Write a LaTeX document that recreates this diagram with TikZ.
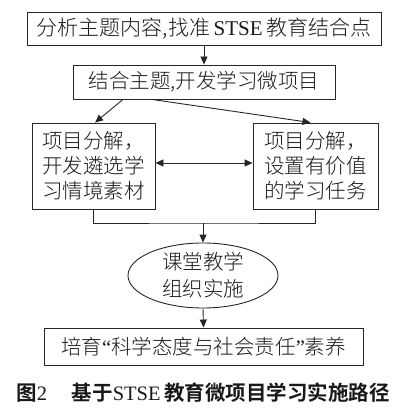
\documentclass[tikz,border=0pt]{standalone}
\usepackage{fontspec}
\setmainfont{Liberation Serif}
\IfFontExistsTF{Noto Sans CJK SC Light}
  {\newfontfamily\cjk[BoldFont={Noto Sans CJK SC Bold}]{Noto Sans CJK SC Light}}
  {\newfontfamily\cjk[BoldFont={Noto Sans CJK SC Bold}]{Noto Sans CJK SC}}
\usetikzlibrary{arrows.meta,shapes.geometric}
\begin{document}
\begin{tikzpicture}[x=1pt,y=-1pt,
  box/.style={draw=black!85, line width=0.9pt, inner sep=0pt, text=black!90, font=\cjk\fontsize{20.5}{25}\selectfont, align=center},
  ell/.style={ellipse, draw=black!85, line width=0.9pt, inner sep=0pt, text=black!90, font=\cjk\fontsize{20.5}{27}\selectfont, align=center},
  conn/.style={draw=black!85, line width=0.9pt},
  arr/.style={conn, -{Triangle[length=8pt,width=7pt]}},
  darr/.style={conn, {Triangle[length=8pt,width=7pt]}-{Triangle[length=8pt,width=7pt]}}
]
\useasboundingbox (0,0) rectangle (400,411);
\node[box, minimum width=354pt, minimum height=33pt, font=\cjk\fontsize{21}{25}\selectfont] (b1) at (204,28.5)
  {分析主题内容,找准\,{\rmfamily STSE}\,教育结合点};
\node[box, minimum width=262pt, minimum height=34pt] (b2) at (204,82)
  {结合主题,开发学习微项目};
\node[box, minimum width=123pt, minimum height=86pt] (l) at (93.5,166)
  {项目分解，\\开发遴选学\\习情境素材};
\node[box, minimum width=125pt, minimum height=86pt] (r) at (315.5,166)
  {项目分解，\\设置有价值\\的学习任务};
\node[ell, minimum width=150pt, minimum height=65pt] (e) at (203,275.5)
  {课堂教学\\组织实施};
\node[box, minimum width=319pt, minimum height=37pt] (b3) at (203.5,346.5)
  {培育{\rmfamily“}科学态度与社会责任{\rmfamily”}素养};
\node[text=black!90, font=\cjk\bfseries\fontsize{20.5}{25}\selectfont] (cap) at (203,393)
  {图{\rmfamily\mdseries 2}\hspace{1.2em}基于{\rmfamily\mdseries STSE}\,教育微项目学习实施路径};
\coordinate (j) at (203,223);
\draw[arr] (b1.south) -- (b2.north);
\draw[arr] ([xshift=-81pt]b2.south) -- ([xshift=1.5pt]l.north);
\draw[arr] ([xshift=-52pt]b2.south) -- ([xshift=-5pt]r.north);
\draw[darr] ([yshift=3pt]l.east) -- ([yshift=3pt]r.west);
\draw[conn] (l.south) |- (j) -| (r.south);
\draw[arr] (j) -- (e.north);
\draw[arr] (e.south) -- (b3.north);
\end{tikzpicture}
\end{document}
